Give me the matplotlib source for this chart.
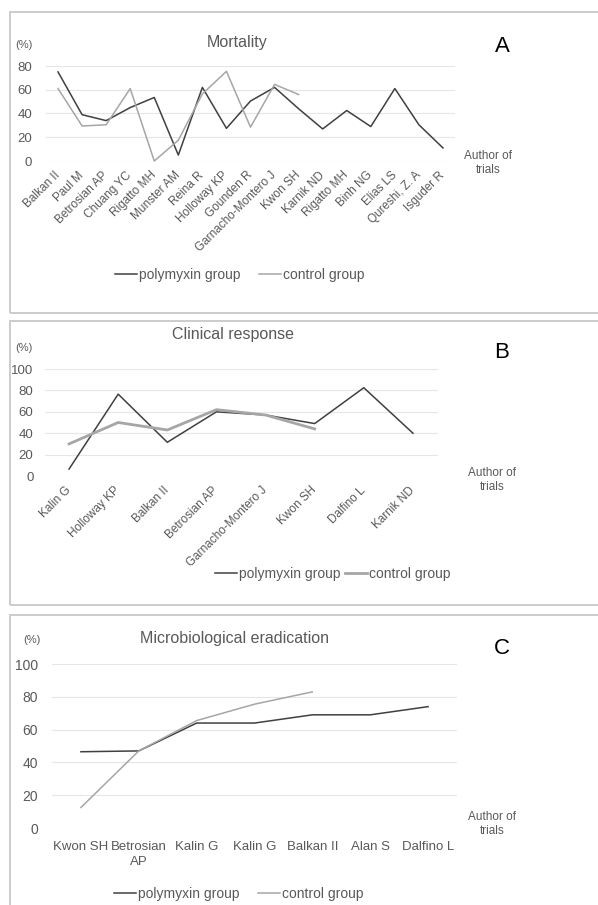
import matplotlib

matplotlib.use("Agg")
import matplotlib.pyplot as plt
from matplotlib.patches import Rectangle

plt.rcParams["font.family"] = ["Liberation Sans", "DejaVu Sans"]

# Panel A: mortality
mort_authors = [
    "Balkan II", "Paul M", "Betrosian AP", "Chuang YC", "Rigatto MH",
    "Munster AM", "Reina R", "Holloway KP", "Gounden R", "Garnacho-Montero J",
    "Kwon SH", "Karnik ND", "Rigatto MH", "Binh NG", "Elias LS",
    "Qureshi, Z. A", "Isguder R",
]
mort_poly = [75, 39, 34, 45, 53.5, 5, 62, 27.5, 50.5, 62, 44, 27, 42.5, 29, 61, 30.5, 11]
mort_ctrl = [61, 29.5, 30.5, 61, 0, 17.5, 56.5, 75.5, 28.5, 64.5, 56]

# Panel B: clinical response
clin_authors = [
    "Kalin G", "Holloway KP", "Balkan II", "Betrosian AP",
    "Garnacho-Montero J", "Kwon SH", "Dalfino L", "Karnik ND",
]
clin_poly = [6.5, 76.5, 31.5, 60, 57, 49, 82.5, 40]
clin_ctrl = [30, 50, 43, 62, 57, 44]

# Panel C: microbiological eradication
erad_authors = ["Kwon SH", "Betrosian\nAP", "Kalin G", "Kalin G", "Balkan II", "Alan S", "Dalfino L"]
erad_poly = [46.5, 47, 64, 64, 69, 69, 74]
erad_ctrl = [12.5, 47, 65.5, 75.5, 83]

W, H = 598, 905
DARK = "#404040"
LIGHT = "#a6a6a6"
TXT = "#595959"
GRID = "#e6e6e6"

fig = plt.figure(figsize=(W / 100, H / 100), dpi=100)


def px_axes(x0, x1, y_top, y_bot):
    return fig.add_axes([x0 / W, 1 - y_bot / H, (x1 - x0) / W, (y_bot - y_top) / H])


def panel_box(y_top, y_bot):
    fig.patches.append(
        Rectangle((10 / W, 1 - y_bot / H), 1.0, (y_bot - y_top) / H,
                  transform=fig.transFigure, fill=False,
                  edgecolor="#c8c8c8", linewidth=1.3)
    )


def style(ax, ymax, step, ypad):
    ax.set_ylim(0, ymax)
    ax.set_yticks(range(0, ymax + 1, step))
    ax.yaxis.grid(True, color=GRID, linewidth=0.8)
    ax.set_axisbelow(True)
    for s in ax.spines.values():
        s.set_visible(False)
    ax.tick_params(length=0, colors=TXT)
    ax.tick_params(axis="y", pad=ypad, labelsize=9.5)


panel_box(12, 313)
panel_box(321, 605)
panel_box(615, 960)

# ---- A
ax = px_axes(46, 455, 66, 161)
n = len(mort_authors)
ax.set_xlim(-0.5, n - 0.5)
ax.plot(range(n), mort_poly, color=DARK, lw=1.1, clip_on=False, label="polymyxin group")
ax.plot(range(len(mort_ctrl)), mort_ctrl, color=LIGHT, lw=1.1, clip_on=False, label="control group")
style(ax, 80, 20, 10)
ax.set_xticks(range(n))
ax.set_xticklabels(mort_authors, rotation=45, ha="right", va="center",
                   rotation_mode="anchor", fontsize=8.5, color=TXT)
ax.tick_params(axis="x", pad=9)
fig.text(237 / W, 1 - 43 / H, "Mortality", ha="center", va="center", fontsize=11.5, color=TXT)
fig.text(24 / W, 1 - 45 / H, "(%)", ha="center", va="center", fontsize=8, color=TXT)
fig.text(502 / W, 1 - 47 / H, "A", ha="center", va="center", fontsize=16, color="black")
fig.text(488 / W, 1 - 163 / H, "Author of\ntrials", ha="center", va="center",
         fontsize=8.5, color=TXT, linespacing=1.2)
fig.legend(*ax.get_legend_handles_labels(), loc="center", bbox_to_anchor=(240 / W, 1 - 275 / H),
           ncol=2, frameon=False, fontsize=10, handlelength=1.6, handletextpad=0.15,
           columnspacing=1.3, labelcolor=TXT)

# ---- B
ax = px_axes(44.5, 437.5, 369, 476)
n = len(clin_authors)
ax.set_xlim(-0.5, n - 0.5)
ax.plot(range(n), clin_poly, color=DARK, lw=1.1, clip_on=False, label="polymyxin group")
ax.plot(range(len(clin_ctrl)), clin_ctrl, color=LIGHT, lw=2.0, clip_on=False, label="control group")
style(ax, 100, 20, 8)
ax.set_xticks(range(n))
ax.set_xticklabels(clin_authors, rotation=45, ha="right", va="center",
                   rotation_mode="anchor", fontsize=8.5, color=TXT)
ax.tick_params(axis="x", pad=9)
fig.text(233 / W, 1 - 334 / H, "Clinical response", ha="center", va="center", fontsize=11.5, color=TXT)
fig.text(24 / W, 1 - 348 / H, "(%)", ha="center", va="center", fontsize=8, color=TXT)
fig.text(502 / W, 1 - 353 / H, "B", ha="center", va="center", fontsize=16, color="black")
fig.text(492 / W, 1 - 480 / H, "Author of\ntrials", ha="center", va="center",
         fontsize=8.5, color=TXT, linespacing=1.2)
fig.legend(*ax.get_legend_handles_labels(), loc="center", bbox_to_anchor=(333 / W, 1 - 574 / H),
           ncol=2, frameon=False, fontsize=10, handlelength=1.6, handletextpad=0.15,
           columnspacing=0.3, labelcolor=TXT)

# ---- C
ax = px_axes(52, 457, 664, 828)
n = len(erad_authors)
ax.set_xlim(-0.5, n - 0.5)
ax.plot(range(n), erad_poly, color=DARK, lw=1.1, clip_on=False, label="polymyxin group")
ax.plot(range(len(erad_ctrl)), erad_ctrl, color=LIGHT, lw=1.1, clip_on=False, label="control group")
style(ax, 100, 20, 10)
ax.tick_params(axis="y", labelsize=10)
ax.set_xticks(range(n))
ax.set_xticklabels(erad_authors, fontsize=9.5, color=TXT, linespacing=1.35)
ax.tick_params(axis="x", pad=9)
fig.text(235 / W, 1 - 638 / H, "Microbiological eradication", ha="center", va="center",
         fontsize=11.5, color=TXT)
fig.text(32 / W, 1 - 640 / H, "(%)", ha="center", va="center", fontsize=8, color=TXT)
fig.text(502 / W, 1 - 648 / H, "C", ha="center", va="center", fontsize=16, color="black")
fig.text(492 / W, 1 - 824 / H, "Author of\ntrials", ha="center", va="center",
         fontsize=8.5, color=TXT, linespacing=1.2)
fig.legend(*ax.get_legend_handles_labels(), loc="center", bbox_to_anchor=(239 / W, 1 - 894 / H),
           ncol=2, frameon=False, fontsize=10, handlelength=1.6, handletextpad=0.15,
           columnspacing=1.3, labelcolor=TXT)

fig.savefig("out.png", dpi=100)
